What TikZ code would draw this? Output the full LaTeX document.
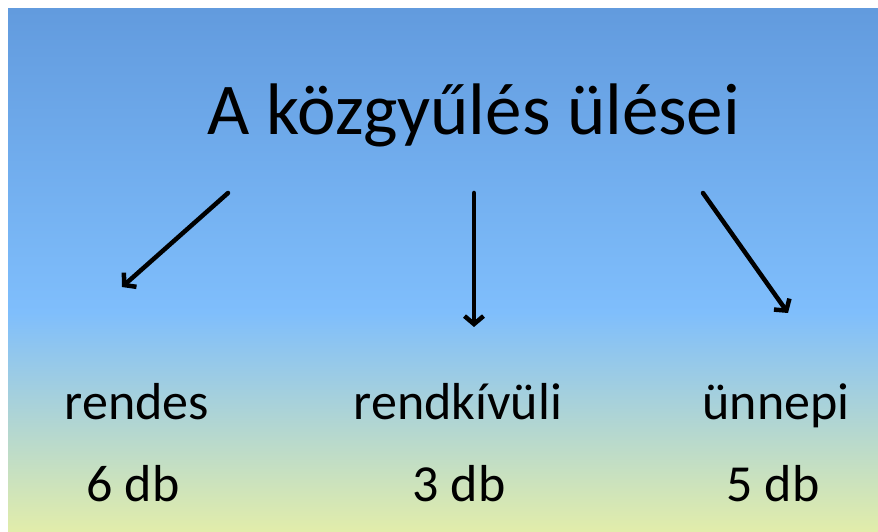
\documentclass[tikz,border=0pt]{standalone}
\usepackage{fontspec}
\setmainfont{Carlito}
\usetikzlibrary{arrows.meta,positioning}
\definecolor{bgtop}{RGB}{98,155,222}
\definecolor{bgmid}{RGB}{127,190,252}
\definecolor{bgbottom}{RGB}{226,237,170}
\pgfdeclareverticalshading{slidebg}{100bp}{color(0bp)=(bgbottom); color(25bp)=(bgbottom); color(46bp)=(bgmid); color(75bp)=(bgtop); color(100bp)=(bgtop)}

\begin{document}
\begin{tikzpicture}[x=1pt,y=1pt,
                    title node/.style={anchor=base,inner sep=0pt,font=\fontsize{73}{80}\selectfont},
                    kind node/.style={anchor=base,inner sep=0pt,font=\fontsize{52}{60}\selectfont},
                    arrow line/.style={-{Straight Barb[length=8pt,width=19pt]},line width=4.5pt,line cap=round,black}]

%DRAWING BACKGROUND
  \useasboundingbox (0,0) rectangle (878,532);
  \shade[shading=slidebg] (8,0) rectangle (878,523);

%DRAWING TITLE
  \node[title node] (title) at (474,397) {A közgyűlés ülései};

%DRAWING KINDS
  \node[kind node] (rendes) at (137,112) {rendes};
  \node[kind node] (rendesDb) at (133,30) {6 db};
  \node[kind node] (rendkivuli) at (458,112) {rendkívüli};
  \node[kind node] (rendkivuliDb) at (459,30) {3 db};
  \node[kind node] (unnepi) at (776,112) {ünnepi};
  \node[kind node] (unnepiDb) at (773,30) {5 db};

%DRAWING ARROWS
  \coordinate (rendesStart) at (228,339);
  \coordinate (rendesEnd) at (122,245);
  \draw[arrow line] (rendesStart)--(rendesEnd);

  \coordinate (rendkivuliStart) at (474,339);
  \coordinate (rendkivuliEnd) at (474,205);
  \draw[arrow line] (rendkivuliStart)--(rendkivuliEnd);

  \coordinate (unnepiStart) at (703,339);
  \coordinate (unnepiEnd) at (788,219);
  \draw[arrow line] (unnepiStart)--(unnepiEnd);

\end{tikzpicture}
\end{document}
